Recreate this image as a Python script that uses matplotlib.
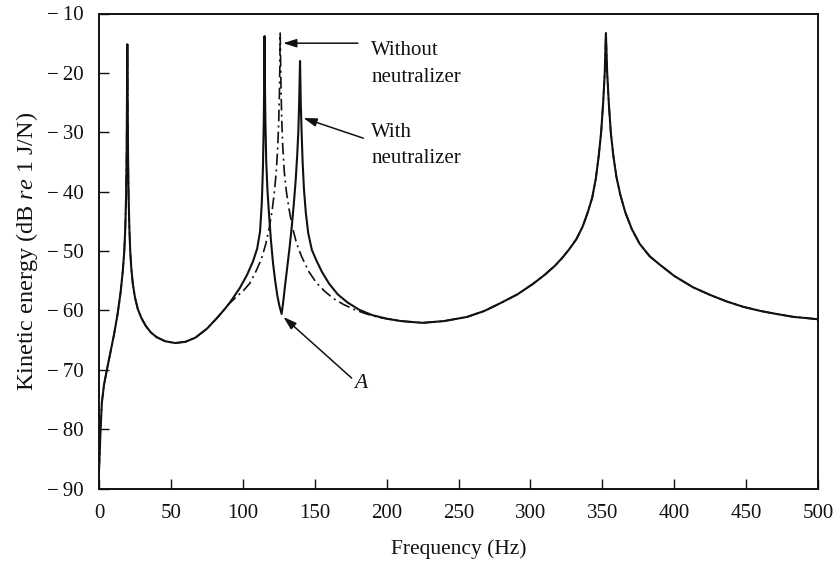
import matplotlib
matplotlib.use("Agg")
import matplotlib.pyplot as plt
from matplotlib.ticker import FixedFormatter

plt.rcParams['font.family'] = ['Liberation Serif', 'DejaVu Serif']
plt.rcParams['mathtext.fontset'] = 'custom'
plt.rcParams['mathtext.rm'] = 'Liberation Serif'
plt.rcParams['mathtext.it'] = 'Liberation Serif:italic'

# ---- data ----
# shared low-frequency part (0-90 Hz)
freq_low = [0, 0.5, 1, 2, 3.5, 5.5, 8, 10.5, 13, 15, 16.5, 17.6, 18.3, 18.8, 19.2, 19.45, 19.6, 19.7,
            19.8, 19.95, 20.2, 20.6, 21.1, 21.7, 22.5, 23.5, 25, 27, 29.5, 32.5, 36, 40, 46, 53,
            60, 67, 75, 82, 87, 90]
db_low = [-87, -84, -80.5, -75.5, -72.5, -70, -67, -64, -60.5, -57, -53.5, -50, -46, -41, -34, -26, -19, -15.2,
          -19, -26, -34, -41, -46, -50, -53, -55.5, -57.8, -59.8, -61.3, -62.6, -63.7, -64.5, -65.2, -65.5,
          -65.3, -64.6, -63.1, -61.3, -59.9, -59.0]

# middle part with neutralizer (90-200 Hz)
freq_mid_with = [93, 98, 103, 107, 110, 112, 113.2, 114, 114.6, 114.9, 115.1, 115.35, 115.7, 116.3,
                 117.2, 118.3, 119.5, 121, 122.5, 124, 125.5, 127, 128, 129.3, 130.8, 132.5, 134,
                 135.5, 136.8, 137.8, 138.6, 139.2, 139.8, 140.3, 140.9, 141.6, 142.5, 143.8, 145.5,
                 148, 151, 155, 160, 166, 173, 181, 190, 200]
db_mid_with = [-58.0, -56.2, -54.0, -51.8, -49.6, -46.7, -42, -36, -28, -21, -13.8, -21, -28, -35,
               -40, -44, -48, -52, -55, -57.5, -59.3, -60.6, -58.8, -56, -53, -49.5, -46,
               -42, -38, -34, -30, -25, -18, -25, -30, -35, -39.5, -43.5, -47,
               -49.8, -51.5, -53.5, -55.5, -57.3, -58.7, -59.9, -60.8, -61.4]

# middle part without neutralizer (90-200 Hz)
freq_mid_without = [93, 96, 100, 105, 109, 113, 116, 118.5, 120.5, 122, 123.3, 124.3, 125, 125.5,
                    125.8, 126, 126.3, 126.6, 127.1, 127.8, 128.8, 130.3, 132.2, 134.5, 137.5, 141,
                    146, 151, 157, 163, 170, 178, 186, 195, 200]
db_mid_without = [-58.3, -57.6, -56.8, -55.4, -53.5, -51.3, -48.8, -46, -43, -40, -36.5, -32.5, -28, -23,
                  -18, -13.3, -18, -23, -28, -32.5, -36.5, -40, -43, -46, -48.8, -51,
                  -53.5, -55.3, -56.8, -58, -59, -59.9, -60.6, -61.2, -61.4]

# shared high-frequency part (200-500 Hz)
freq_high = [210, 225, 240, 256, 268, 279, 291, 302, 310, 317, 322, 327, 332, 336.5, 340, 343, 345.5,
             347.5, 349.2, 350.6, 351.7, 352.5, 353.4, 354.5, 355.9, 357.7, 359.8, 362.5, 366,
             370.5, 376, 383, 390, 400, 413, 425, 436.5, 448, 460, 471, 483, 492, 500]
db_high = [-61.8, -62.1, -61.8, -61.1, -60.1, -58.8, -57.3, -55.5, -54.0, -52.5, -51.2, -49.7, -48, -45.8,
           -43.4, -41, -37.8, -34, -30, -25, -20, -13.3, -20, -25, -30, -34, -37.5, -40.5, -43.5,
           -46.3, -48.8, -50.9, -52.3, -54.2, -56.1, -57.4, -58.5, -59.4, -60.1, -60.6, -61.1,
           -61.3, -61.5]

freq_with = freq_low + freq_mid_with + freq_high
db_with = db_low + db_mid_with + db_high
freq_without = freq_low + freq_mid_without + freq_high
db_without = db_low + db_mid_without + db_high

x_ticks = [0, 50, 100, 150, 200, 250, 300, 350, 400, 450, 500]
x_tick_labels = ['0', '50', '100', '150', '200', '250', '300', '350', '400', '450', '500']
y_ticks = [-90, -80, -70, -60, -50, -40, -30, -20, -10]
y_tick_labels = ['\u2212\u200990', '\u2212\u200980', '\u2212\u200970', '\u2212\u200960',
                 '\u2212\u200950', '\u2212\u200940', '\u2212\u200930', '\u2212\u200920',
                 '\u2212\u200910']

# ---- figure ----
fig = plt.figure(figsize=(8.34, 5.61), dpi=100)
ax = fig.add_axes([99 / 834, 1 - 488.5 / 561, 719 / 834, 475 / 561])

ink = '#111111'
ax.plot(freq_without, db_without, color=ink, lw=1.2, linestyle=(0, (7, 2.5, 1.2, 2.5)))
ax.plot(freq_with, db_with, color=ink, lw=1.5)

ax.set_xlim(0, 500)
ax.set_ylim(-90, -10)
ax.set_xticks(x_ticks)
ax.xaxis.set_major_formatter(FixedFormatter(x_tick_labels))
ax.set_yticks(y_ticks)
ax.yaxis.set_major_formatter(FixedFormatter(y_tick_labels))
ax.tick_params(direction='in', length=7, width=1.0, labelsize=15, pad=11, color=ink, labelcolor=ink)
ax.tick_params(top=False, right=False)
for s in ax.spines.values():
    s.set_linewidth(1.4)
    s.set_color(ink)

ax.set_xlabel('Frequency (Hz)', fontsize=15.5, color=ink, labelpad=12)
ax.set_ylabel(r'Kinetic energy (dB $\it{re}$ 1 J/N)', fontsize=17.5, color=ink, labelpad=5)

arrow = dict(arrowstyle='-|>,head_length=0.8,head_width=0.25', color=ink, lw=1.1, shrinkA=0, shrinkB=0)
ax.annotate('', xy=(128, -15.0), xytext=(180, -15.0), arrowprops=arrow)
ax.text(189.2, -17.0, 'Without', fontsize=15, color=ink, ha='left', va='baseline')
ax.text(189.2, -21.5, 'neutralizer', fontsize=15, color=ink, ha='left', va='baseline')
ax.annotate('', xy=(142.1, -27.6), xytext=(183.8, -31.0), arrowprops=arrow)
ax.text(189.2, -30.8, 'With', fontsize=15, color=ink, ha='left', va='baseline')
ax.text(189.2, -35.2, 'neutralizer', fontsize=15, color=ink, ha='left', va='baseline')
ax.annotate('', xy=(128.2, -61.1), xytext=(175.7, -71.4), arrowprops=arrow)
ax.text(177.5, -73.1, 'A', fontsize=15.5, color=ink, ha='left', va='baseline', style='italic')

fig.savefig('out.png', dpi=100)
